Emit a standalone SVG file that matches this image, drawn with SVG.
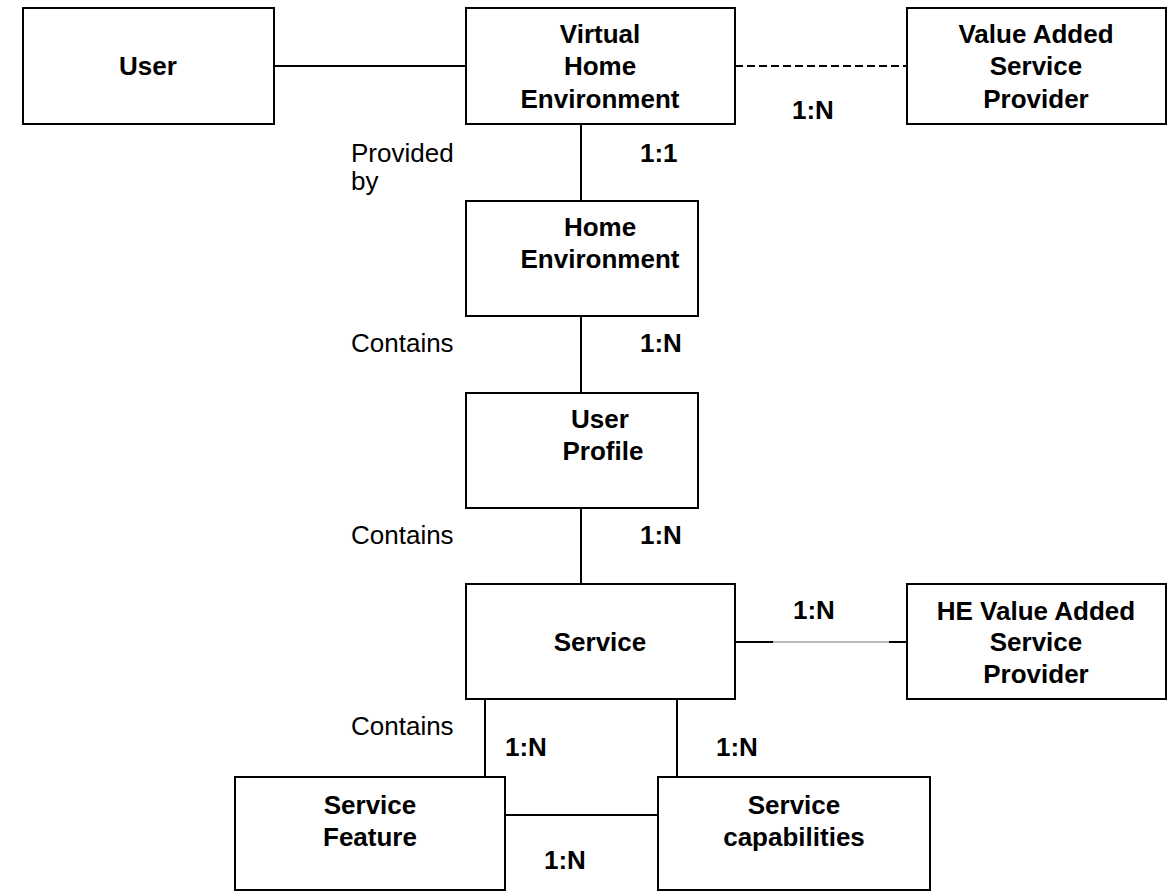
<svg xmlns="http://www.w3.org/2000/svg" width="1169" height="892" viewBox="0 0 1169 892">
<style>
.box{fill:#fff;stroke:#000;stroke-width:2}
.n{font-family:"Liberation Sans",Arial,sans-serif;font-weight:bold;font-size:26px;fill:#000;text-anchor:middle}
.lbl{font-family:"Liberation Sans",Arial,sans-serif;font-size:26px;fill:#000}
.card{font-family:"Liberation Sans",Arial,sans-serif;font-weight:bold;font-size:26px;fill:#000}
.ln{stroke:#000;stroke-width:2;fill:none}
</style>
<rect width="1169" height="892" fill="#fff"/>
<g id="connectors">
<line class="ln" x1="274" y1="66" x2="466" y2="66"/>
<line class="ln" x1="735" y1="66" x2="907" y2="66" stroke-dasharray="8 4"/>
<line class="ln" x1="581" y1="124" x2="581" y2="201"/>
<line class="ln" x1="581" y1="316" x2="581" y2="393"/>
<line class="ln" x1="581" y1="508" x2="581" y2="584"/>
<line class="ln" x1="735" y1="642" x2="773" y2="642"/>
<line x1="773" y1="642" x2="889" y2="642" stroke="#777" stroke-width="1.2"/>
<line class="ln" x1="889" y1="642" x2="907" y2="642"/>
<line class="ln" x1="485" y1="699" x2="485" y2="777"/>
<line class="ln" x1="677" y1="699" x2="677" y2="777"/>
<line class="ln" x1="505" y1="815" x2="658" y2="815"/>
<text class="lbl" x="351" y="162">Provided</text>
<text class="lbl" x="351" y="190">by</text>
<text class="card" x="640" y="162">1:1</text>
<text class="card" x="792" y="119">1:N</text>
<text class="lbl" x="351" y="352">Contains</text>
<text class="card" x="640" y="352">1:N</text>
<text class="lbl" x="351" y="544">Contains</text>
<text class="card" x="640" y="544">1:N</text>
<text class="card" x="793" y="619">1:N</text>
<text class="lbl" x="351" y="735">Contains</text>
<text class="card" x="505" y="756">1:N</text>
<text class="card" x="716" y="756">1:N</text>
<text class="card" x="544" y="869">1:N</text>
</g>
<g id="user">
<rect class="box" x="23" y="8" width="251" height="116"/>
<text class="n" x="148" y="75">User</text>
</g>
<g id="vhe">
<rect class="box" x="466" y="8" width="269" height="116"/>
<text class="n" x="600" y="42.5">Virtual</text>
<text class="n" x="600" y="75">Home</text>
<text class="n" x="600" y="107.5">Environment</text>
</g>
<g id="vasp">
<rect class="box" x="907" y="8" width="259" height="116"/>
<text class="n" x="1036" y="42.5">Value Added</text>
<text class="n" x="1036" y="75">Service</text>
<text class="n" x="1036" y="107.5">Provider</text>
</g>
<g id="he">
<rect class="box" x="466" y="201" width="232" height="115"/>
<text class="n" x="600" y="236">Home</text>
<text class="n" x="600" y="268">Environment</text>
</g>
<g id="userprofile">
<rect class="box" x="466" y="393" width="232" height="115"/>
<text class="n" x="600" y="428">User</text>
<text class="n" x="603" y="460">Profile</text>
</g>
<g id="service">
<rect class="box" x="466" y="584" width="269" height="115"/>
<text class="n" x="600" y="651">Service</text>
</g>
<g id="hevasp">
<rect class="box" x="907" y="584" width="259" height="115"/>
<text class="n" x="1036" y="620">HE Value Added</text>
<text class="n" x="1036" y="651">Service</text>
<text class="n" x="1036" y="683">Provider</text>
</g>
<g id="servicefeature">
<rect class="box" x="235" y="777" width="270" height="113"/>
<text class="n" x="370" y="814">Service</text>
<text class="n" x="370" y="846">Feature</text>
</g>
<g id="servicecapabilities">
<rect class="box" x="658" y="777" width="272" height="113"/>
<text class="n" x="794" y="814">Service</text>
<text class="n" x="794" y="846">capabilities</text>
</g>
</svg>
